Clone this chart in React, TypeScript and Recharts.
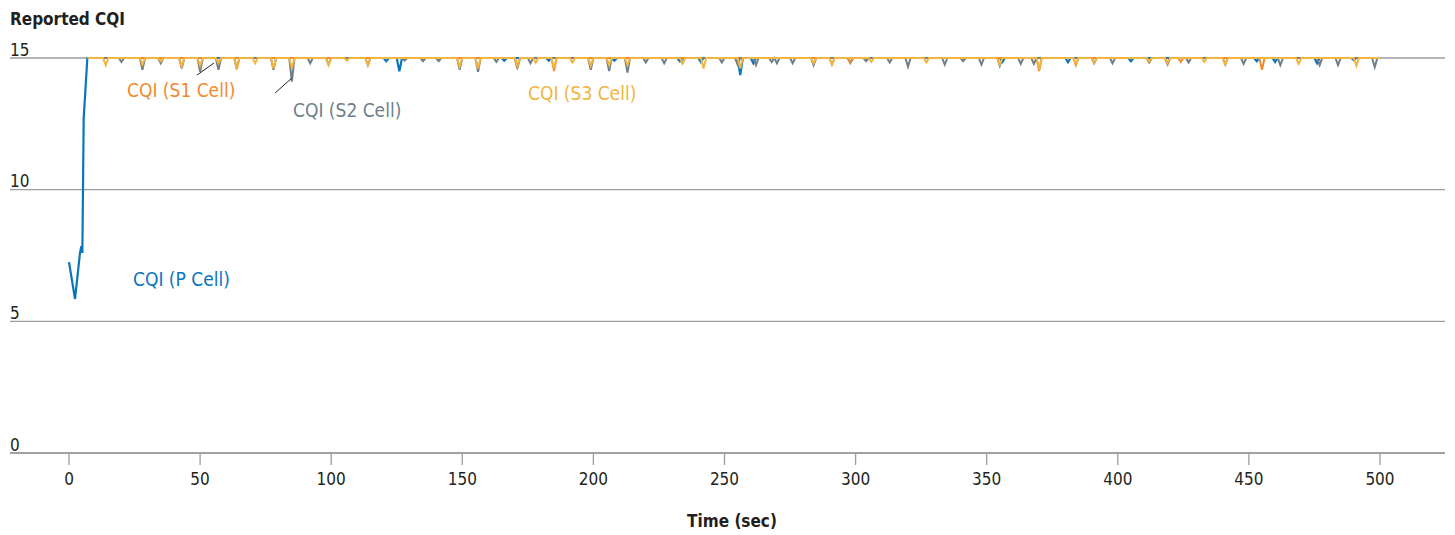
import React from "react"
import { LineChart, Line, XAxis, YAxis, CartesianGrid, ReferenceLine } from "recharts"

// CQI reported per cell over a 500 s drive. Each cell sits at CQI 15 and
// drops briefly; dips are listed as [time (sec), cqi].
const BASE_CQI = 15
const END_TIME = 500

// P cell ramps up from a low start before settling at 15
const P_CELL_START = [
    [0, 7.25],
    [2.3, 5.85],
    [4.2, 7.6],
    [4.7, 7.85],
    [5.1, 7.6],
    [5.6, 12.7],
    [7, 15],
]

const P_CELL_DIPS = [
    [121, 14.88], [126, 14.5], [166, 14.9], [183, 14.9], [208, 14.9], [233, 14.88],
    [241, 14.85], [256, 14.35], [261, 14.8], [298, 14.82], [356, 14.85], [381, 14.84],
    [405, 14.88], [453, 14.88], [460, 14.85], [476, 14.8], [490, 14.92],
]

const S1_CELL_DIPS = [
    [57, 14.82], [171, 14.6], [185, 14.5], [291, 14.75], [298, 14.82], [370, 14.5],
    [384, 14.73], [412, 14.83], [419, 14.75], [424, 14.85], [455, 14.55],
]

const S2_CELL_DIPS = [
    [20, 14.85], [28, 14.55], [35, 14.8], [43, 14.6], [50, 14.48], [57, 14.55],
    [64, 14.6], [78, 14.55], [85, 14.1], [92, 14.8], [99, 14.75], [114, 14.73],
    [128, 14.9], [135, 14.88], [141, 14.88], [149, 14.55], [156, 14.48], [163, 14.85],
    [171, 14.65], [176, 14.8], [199, 14.55], [206, 14.5], [213, 14.45], [220, 14.83],
    [227, 14.8], [234, 14.8], [249, 14.83], [255, 14.75], [262, 14.73], [268, 14.85],
    [270, 14.8], [276, 14.8], [284, 14.73], [304, 14.88], [313, 14.83], [320, 14.67],
    [334, 14.75], [341, 14.88], [348, 14.75], [355, 14.7], [363, 14.78], [368, 14.78],
    [391, 14.8], [398, 14.8], [412, 14.85], [419, 14.8], [427, 14.83], [441, 14.75],
    [448, 14.78], [462, 14.73], [477, 14.73], [484, 14.73], [498, 14.65],
]

const S3_CELL_DIPS = [
    [14, 14.73], [28, 14.75], [35, 14.88], [43, 14.67], [50, 14.7], [57, 14.8],
    [64, 14.55], [71, 14.8], [78, 14.6], [85, 14.6], [99, 14.73], [106, 14.9],
    [114, 14.73], [149, 14.67], [156, 14.6], [171, 14.7], [178, 14.82], [185, 14.6],
    [192, 14.83], [199, 14.7], [206, 14.72], [213, 14.72], [234, 14.8], [242, 14.6],
    [256, 14.6], [284, 14.8], [291, 14.78], [306, 14.85], [327, 14.83], [355, 14.75],
    [370, 14.55], [384, 14.8], [391, 14.82], [412, 14.88], [419, 14.82], [433, 14.85],
    [441, 14.75], [469, 14.78], [491, 14.7],
]

const X_TICKS = [0, 50, 100, 150, 200, 250, 300, 350, 400, 450, 500]
const Y_TICKS = [0, 5, 10, 15]

const COLORS = {
    p: "#0b75bc",
    s1: "#f28a2e",
    s2: "#6e7f8b",
    s3: "#f1b540",
    grid: "#9d9d9d",
    text: "#231f20",
}

const FONT = "'Liberation Sans Narrow', 'DejaVu Sans Condensed', sans-serif"

type Pt = { t: number; v: number }

// each dip is one sample below the base level, flanked by samples at 15
const buildSeries = (start: number[][], dips: number[][]): Pt[] => {
    const pts: Pt[] = start.map(([t, v]) => ({ t, v }))
    dips.forEach(([t, v]) => {
        pts.push({ t: t - 1, v: BASE_CQI }, { t, v }, { t: t + 1, v: BASE_CQI })
    })
    pts.push({ t: END_TIME, v: BASE_CQI })
    return pts
}

const pCell = buildSeries(P_CELL_START, P_CELL_DIPS)
const s1Cell = buildSeries([[7, BASE_CQI]], S1_CELL_DIPS)
const s2Cell = buildSeries([[7, BASE_CQI]], S2_CELL_DIPS)
const s3Cell = buildSeries([[7, BASE_CQI]], S3_CELL_DIPS)

// y labels sit just above their gridline, flush with the chart's left edge
const renderYTick = (props: any) => {
    const { y, payload } = props
    return (
        <text key={`y-${payload.value}`} x={10} y={y - 2.5} fontSize={17} fontFamily={FONT} fill={COLORS.text}>
            {payload.value}
        </text>
    )
}

const labelStyle = { fontFamily: FONT, fontSize: 19 }

export default function App() {
    return (
        <div style={{ position: "absolute", left: 0, top: 0, width: 1455, height: 535, background: "#fff" }}>
            <LineChart width={1455} height={535} margin={{ top: 58, right: 10, left: 9, bottom: 52 }}>
                <CartesianGrid vertical={false} stroke={COLORS.grid} strokeWidth={1.3} />
                <XAxis
                    type="number"
                    dataKey="t"
                    domain={[-22.5, 524.8]}
                    ticks={X_TICKS}
                    allowDataOverflow
                    height={30}
                    stroke={COLORS.grid}
                    strokeWidth={1.3}
                    tickSize={12}
                    tickMargin={8}
                    tick={{ fill: COLORS.text, fontSize: 17, fontFamily: FONT }}
                />
                <YAxis
                    type="number"
                    domain={[0, 15]}
                    ticks={Y_TICKS}
                    interval={0}
                    width={1}
                    axisLine={false}
                    tickLine={false}
                    tick={renderYTick}
                />
                <Line data={pCell} dataKey="v" type="linear" stroke={COLORS.p} strokeWidth={2.2} dot={false} isAnimationActive={false} />
                <Line data={s1Cell} dataKey="v" type="linear" stroke={COLORS.s1} strokeWidth={2} dot={false} isAnimationActive={false} />
                <Line data={s2Cell} dataKey="v" type="linear" stroke={COLORS.s2} strokeWidth={2} dot={false} isAnimationActive={false} />
                <Line data={s3Cell} dataKey="v" type="linear" stroke={COLORS.s3} strokeWidth={2} dot={false} isAnimationActive={false} />
                {/* leader lines from the S1 / S2 labels to their dips */}
                <ReferenceLine segment={[{ x: 48.8, y: 14.35 }, { x: 55.3, y: 14.81 }]} stroke={COLORS.text} strokeWidth={1} ifOverflow="visible" />
                <ReferenceLine segment={[{ x: 78.6, y: 13.67 }, { x: 85, y: 14.24 }]} stroke={COLORS.text} strokeWidth={1} ifOverflow="visible" />
            </LineChart>
            <svg width={1455} height={535} style={{ position: "absolute", left: 0, top: 0, pointerEvents: "none" }}>
                <text x={10} y={25} fontFamily={FONT} fontSize={17} fontWeight="bold" fill={COLORS.text}>
                    Reported CQI
                </text>
                <text x={732} y={527} textAnchor="middle" fontFamily={FONT} fontSize={17} fontWeight="bold" fill={COLORS.text}>
                    Time (sec)
                </text>
                <text x={127} y={97} fill={COLORS.s1} {...labelStyle}>CQI (S1 Cell)</text>
                <text x={293} y={117} fill={COLORS.s2} {...labelStyle}>CQI (S2 Cell)</text>
                <text x={528} y={100} fill={COLORS.s3} {...labelStyle}>CQI (S3 Cell)</text>
                <text x={133} y={286} fill={COLORS.p} {...labelStyle}>CQI (P Cell)</text>
            </svg>
        </div>
    )
}
